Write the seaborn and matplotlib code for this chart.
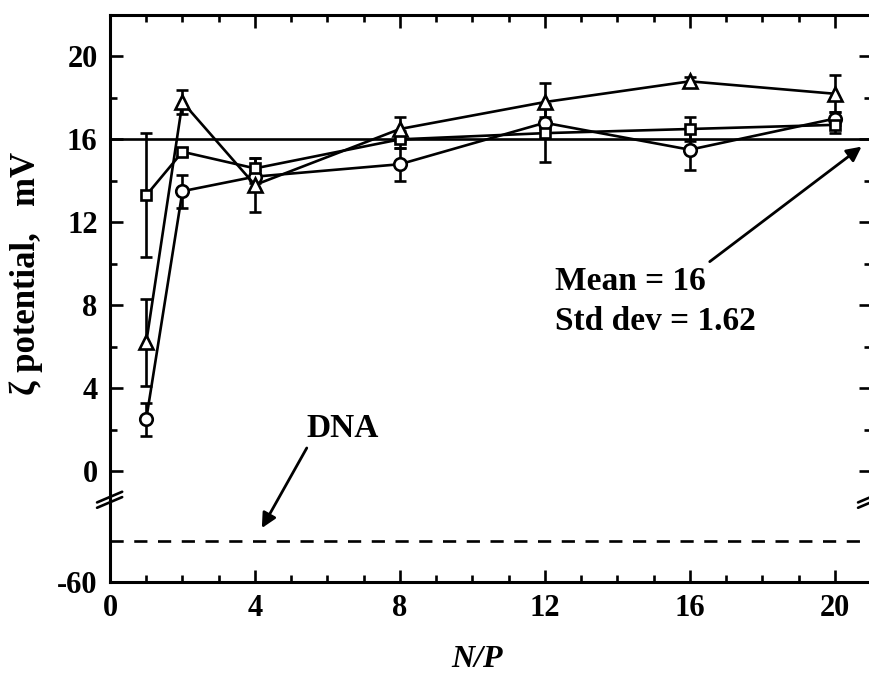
import numpy as np
import pandas as pd
import seaborn as sns
import matplotlib.pyplot as plt
from matplotlib.ticker import MultipleLocator

# N/P ratios and zeta potentials (mV) for the three formulations
np_ratio = [1, 2, 4, 8, 12, 16, 20]
zeta_circle = [2.5, 13.5, 14.2, 14.8, 16.8, 15.5, 17.0]
err_circle = [0.8, 0.8, 0.3, 0.8, 0.3, 1.0, 0.3]
zeta_square = [13.3, 15.4, 14.6, 16.0, 16.3, 16.5, 16.7]
err_square = [3.0, 0.2, 0.5, 0.4, 1.4, 0.6, 0.4]
zeta_triangle = [6.2, 17.8, 13.8, 16.5, 17.8, 18.8, 18.2]
err_triangle = [2.1, 0.6, 1.3, 0.6, 0.9, 0.2, 0.9]
mean_zeta = 16
dna_zeta = -40

sns.set_style("ticks")
plt.rcParams['font.family'] = ['Liberation Serif', 'DejaVu Serif']
plt.rcParams['font.weight'] = 'bold'
plt.rcParams['axes.unicode_minus'] = False
for k in ('text.color', 'axes.labelcolor', 'axes.edgecolor',
          'xtick.color', 'ytick.color'):
    plt.rcParams[k] = 'black'

W, H = 869, 675
fig = plt.figure(figsize=(W / 100, H / 100), dpi=100)


def rect(x0, y0, x1, y1):
    return [x0 / W, 1 - y1 / H, (x1 - x0) / W, (y1 - y0) / H]


ax = fig.add_axes(rect(110, 15, 871, 500))
axb = fig.add_axes(rect(110, 500, 871, 582))
axb.patch.set_visible(False)

LW = 1.9
series = [
    ('circle', zeta_circle, err_circle, 'o', 9),
    ('square', zeta_square, err_square, 's', 7),
    ('triangle', zeta_triangle, err_triangle, '^', 10),
]
for name, z, e, m, ms in series:
    df = pd.DataFrame({'np': np_ratio, 'zeta': z})
    ax.errorbar(np_ratio, z, yerr=e, fmt='none', ecolor='black',
                elinewidth=LW, capsize=4.5, capthick=LW, zorder=2)
    sns.lineplot(data=df, x='np', y='zeta', ax=ax, color='black', lw=LW,
                 marker=m, markersize=ms, markerfacecolor='white',
                 markeredgecolor='black', markeredgewidth=LW, zorder=3)

ax.axhline(mean_zeta, color='black', lw=LW, zorder=1)
axb.axhline(dna_zeta, color='black', lw=LW, dashes=(5, 4))

for a in (ax, axb):
    a.set_xlim(0, 21)
    a.xaxis.set_major_locator(MultipleLocator(4))
    a.xaxis.set_minor_locator(MultipleLocator(1))
    for s in a.spines.values():
        s.set_linewidth(2.2)
        s.set_color('black')
    a.tick_params(which='both', direction='in', width=1.9, labelsize=22,
                  top=True, right=True, colors='black')
    a.tick_params(which='major', length=9)
    a.tick_params(which='minor', length=5)
    a.set_xlabel('')
    a.set_ylabel('')

ax.set_ylim(-1.4, 22)
ax.yaxis.set_major_locator(MultipleLocator(4))
ax.yaxis.set_minor_locator(MultipleLocator(2))
ax.spines['bottom'].set_visible(False)
ax.tick_params(which='both', bottom=False, labelbottom=False, pad=9)

axb.set_ylim(-60, -20)
axb.set_yticks([-60])
axb.yaxis.set_minor_locator(plt.NullLocator())
axb.spines['top'].set_visible(False)
axb.tick_params(which='both', top=False, pad=9)
axb.tick_params(axis='y', which='both', right=False)

for lab in ax.get_yticklabels() + axb.get_yticklabels() + axb.get_xticklabels():
    lab.set_fontweight('bold')

# break marks on the y axis
for xa in (0.0, 1.0):
    for dy in (0.0, 0.011):
        ax.plot([xa - 0.017, xa + 0.016], [-0.016 + dy, 0.006 + dy],
                transform=ax.transAxes, color='black', lw=LW, clip_on=False)

axb.set_xlabel('N/P', fontsize=23, fontweight='bold', fontstyle='italic')
axb.xaxis.label.set_va('center')
axb.xaxis.set_label_coords(0.482, -0.95)
fig.text(26 / W, 1 - 273 / H, 'ζ potential,   mV', rotation=90, fontsize=25,
         fontweight='bold', ha='center', va='center')

arrow = dict(arrowstyle='-|>', color='black', lw=2, mutation_scale=22,
             shrinkA=0, shrinkB=0)
ax.text(12.28, 8.74, 'Mean = 16', fontsize=24, fontweight='bold', va='baseline')
ax.text(12.28, 6.81, 'Std dev = 1.62', fontsize=24, fontweight='bold', va='baseline')
ax.annotate('', xy=(20.74, 15.65), xytext=(16.55, 10.1), arrowprops=arrow,
            annotation_clip=False)

ax.text(5.43, 1.64, 'DNA', fontsize=24, fontweight='bold', va='baseline')
ann = ax.annotate('', xy=(4.19, -33.7), xycoords=axb.transData,
                  xytext=(5.43, 1.11), textcoords='data', arrowprops=arrow,
                  annotation_clip=False)
ann.set_clip_on(False)
ann.arrow_patch.set_clip_on(False)

fig.savefig('out.png', dpi=100)
